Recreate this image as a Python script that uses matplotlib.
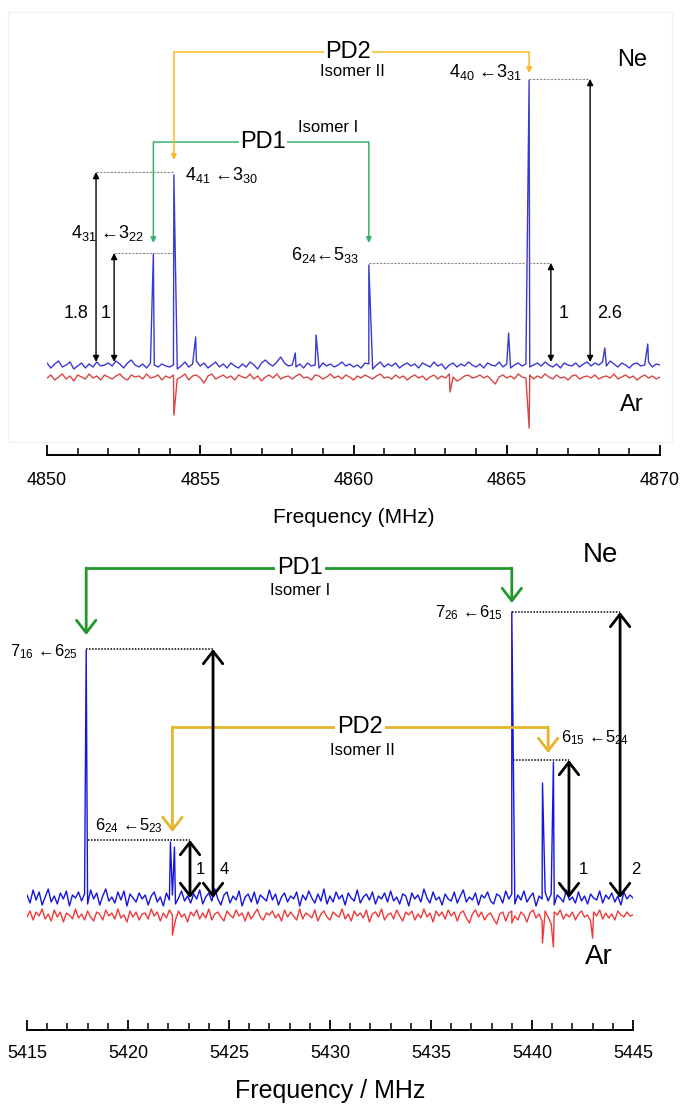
import numpy as np
import matplotlib
matplotlib.use("Agg")
import matplotlib.pyplot as plt
from matplotlib.ticker import MultipleLocator

plt.rcParams['font.family'] = ['Liberation Sans', 'DejaVu Sans']
plt.rcParams['mathtext.default'] = 'regular'

# ---------------- data: upper spectrum (4850-4870 MHz) ----------------
top_range = (4850.0, 4870.0)
# baseline wiggles of the Ne trace (arbitrary units x100)
top_ne_noise = [2, -3, 1, 4, -2, 0, 3, -4, -1, 2, -3, 1, -2, 3, -1, 0,
                2, -1, 4, 1, -3, 2, 5, 0, -2, 1, -3, 2, 0, -2, 1, -1,
                -2, 0, -4, -1, 3, -2, 1, 4, -1, 2, -3, 0, 3, -2, 1, -3,
                2, -1, -3, 1, -2, 3, 0, -4, 2, 5, 1, -1, 3, 8, 2, -1,
                0, -2, 1, -3, 2, -1, 0, -3, 2, -1, 1, -2, 0, 3, -1, 1,
                -2, 0, -3, 2, 1, -4, 0, 3, -2, 1, -1, 2, -3, 0, 2, -1,
                1, -3, 2, 0, -2, 3, -1, 1, -4, 0, 2, -2, 1, -1, 3, 0,
                -2, 1, -3, 2, 0, -1, 3, -2, 1, -3, 0, 2, -1, 1, -2, 0,
                2, -1, 3, 0, -2, 1, -3, 2, 0, -1, 2, -2, 1, 3, -1, 2,
                0, 3, -1, 4, 1, -2, 2, 0, -3, 1, 2, -1, 0, 3, -2, 1, 0]
top_ar_noise = [-1, 2, -3, 0, 3, -2, 1, -4, 2, 0, -2, 3, -1, 1, -3, 2,
                0, -2, 1, 3, -1, -3, 2, 0, 1, -2, 3, -1, 0, 2, -3, 1,
                -1, 2, -2, 0, 3, -3, 1, 2, -1, -6, 1, 3, -2, 0, 2, -1,
                1, -3, 2, 0, -1, 3, -2, 1, -4, 0, 2, -1, 3, -2, 0, 1,
                -2, 1, 3, -1, 0, -3, 2, 1, -2, 0, 3, -1, 1, -2, 2, 0,
                -3, 1, -1, 2, 0, -2, 1, 3, -1, 0, -2, 2, -1, 1, -3, 0,
                2, -1, 1, -3, 0, 2, -2, 1, -1, 3, 0, -4, -2, 1, 2, -1,
                0, 2, -1, 1, -3, -7, 0, 2, -1, 1, -2, 3, 0, -1, 2, -2,
                1, -1, 3, 0, -2, 2, -1, 0, -3, 1, 2, -2, 0, 1, -1, 2,
                -2, 0, 1, -1, 3, -2, 0, 2, -1, 1, -3, 0, 2, -1, 1, -2, 0]
top_ar_offset = -12
top_ne_peak_freq = [4853.47, 4854.14, 4854.85, 4858.10, 4858.78, 4860.50,
                    4865.06, 4865.73, 4868.20, 4869.60]
top_ne_peak_int = [111, 190, 28, 12, 30, 100, 32, 285, 17, 21]
top_ar_dip_freq = [4854.14, 4863.15, 4865.73]
top_ar_dip_int = [-50, -27, -63]

# ---------------- data: lower spectrum (5415-5445 MHz) ----------------
bot_range = (5415.0, 5445.0)
bot_ne_noise = [3, -5, 8, -2, 6, -7, 1, 9, -4, 2, -6, 5, -1, 7, -8, 3, 0, 6, -3, 4,
                -6, 8, -1, 5, -7, 2, 9, -3, 1, -5, 6, -2, 7, -8, 4, 0, -4, 5, -1, 3,
                -7, 2, 6, -4, 1, -8, 5, -2, 3, -6, 0, 7, -3, 2, -5, 4, -1, 8, -6, 1,
                5, -3, 9, -1, -7, 3, 6, -5, 2, -2, 7, -8, 1, 4, -4, 6, -6, 3, 0, -3,
                8, -2, 4, -7, 1, 5, -4, 2, -1, 6, -8, 3, -2, 7, 0, -5, 4, -3, 9, -6,
                2, -4, 6, -1, 3, -7, 5, 0, -3, 8, -5, 1, 4, -2, 6, -6, 2, -1, 5, -4,
                7, -3, 1, -6, 4, 2, -8, 5, -1, 3, -4, 9, 0, -5, 6, -2, 1, -7, 4, -1,
                -3, 6, -5, 2, 8, -4, 1, -2, 5, -7, 3, 0, 6, -3, -6, 4, 2, -5, 7, -1,
                4, -6, 3, -2, 7, -4, 1, 5, -8, 2, -1, 6, -3, 4, -7, 3, 0, -4, 8, -2,
                1, -5, 6, -3, 2, -6, 4, 0, -2, 7, -5, 3, -1, 5, -4, 2, -7, 6, -1, 3, 0]
bot_ar_noise = [-2, 4, -5, 3, -1, 6, -4, 1, -6, 5, -2, 3, -7, 2, 0, -4, 6, -3, 1, -5,
                4, -2, -6, 3, 1, -5, 5, -1, 2, -4, 6, -3, 0, -7, 4, -2, 3, -5, 1, 2,
                -4, 6, -1, 3, -6, 2, -3, 5, 0, -5, 4, -2, 1, -7, 3, -1, 5, -4, 2, -3,
                6, -5, 1, 3, -2, -6, 4, 0, -3, 5, -1, 2, -6, 3, -4, 1, 6, -2, -5, 2,
                0, 4, -3, 1, -6, 5, -2, 3, -1, -5, 6, -4, 2, 0, -3, 5, -6, 1, 4, -2,
                -5, 3, 0, -2, 6, -4, 1, -6, 4, -1, 2, -3, 5, -7, 1, 3, -2, 6, -5, 0,
                2, -4, 5, -1, -6, 3, 0, 4, -5, 1, -3, 6, -2, 2, -7, 4, -1, 3, -4, 5,
                -1, 3, -6, 2, 4, -3, -8, 1, 5, -2, 3, -5, 0, 2, -4, -9, 1, 3, -6, 2,
                4, -1, -5, 3, 0, -7, 2, 5, -3, 1, -6, 4, -2, -9, 3, 0, 5, -4, 1, -2,
                3, -5, 1, 4, -2, 0, -6, 3, -1, 5, -4, 2, -3, 1, -5, 4, 0, -2, 3, -1, 0]
bot_ar_offset = -17
bot_ne_peak_freq = [5417.93, 5422.10, 5422.30, 5439.00, 5440.52, 5441.06]
bot_ne_peak_int = [248, 56, 51, 286, 115, 136]
bot_ar_dip_freq = [5422.20, 5439.00, 5440.52, 5441.06, 5443.00]
bot_ar_dip_int = [-37, -25, -45, -49, -40]


def trace(rng, noise, offset, pk_f, pk_i):
    f = np.linspace(rng[0], rng[1], len(noise))
    y = np.array(noise, float) + offset
    f = np.concatenate([f, pk_f])
    y = np.concatenate([y, pk_i])
    order = np.argsort(f)
    return f[order], y[order] / 100.0


fig = plt.figure(figsize=(6.81, 11.05), dpi=100)

# faint frame around the upper panel
fig.patches.append(plt.Rectangle((8 / 681, 1 - 442 / 1105), 664 / 681, 430 / 1105,
                                 transform=fig.transFigure, fill=False,
                                 edgecolor='#f2f2f2', lw=1.0))


def style_axis(ax, rng, ylim, fs, pad):
    ax.set_xlim(*rng)
    ax.set_ylim(*ylim)
    for s in ['left', 'right', 'top']:
        ax.spines[s].set_visible(False)
    ax.spines['bottom'].set_linewidth(1.4)
    ax.set_yticks([])
    ax.xaxis.set_major_locator(MultipleLocator(5))
    ax.xaxis.set_minor_locator(MultipleLocator(1))
    ax.tick_params(axis='x', which='major', direction='in', length=7, width=1.3,
                   labelsize=fs, pad=pad)
    ax.tick_params(axis='x', which='minor', direction='in', length=5, width=1.1)
    ax.patch.set_alpha(0)


# ================= upper panel =================
ax1 = fig.add_axes([47 / 681, 1 - 455 / 1105, 613 / 681, 435 / 1105])
style_axis(ax1, top_range, (-0.90, 3.45), 13, 12)
ax1.set_xlabel('Frequency (MHz)', fontsize=15, labelpad=14)

f, y = trace(top_range, top_ne_noise, 0, top_ne_peak_freq, top_ne_peak_int)
ax1.plot(f, y, color='#3a3ad2', lw=1.0)
f, y = trace(top_range, top_ar_noise, top_ar_offset, top_ar_dip_freq, top_ar_dip_int)
ax1.plot(f, y, color='#d94545', lw=1.0)

yel1, grn1 = '#f7b924', '#35b36b'


def connector(ax, x1, x2, ybar, t1, t2, color, lw, style, ms):
    ax.plot([x1, x2], [ybar, ybar], color=color, lw=lw, solid_capstyle='butt')
    for x, t in ((x1, t1), (x2, t2)):
        ax.annotate('', xy=(x, t), xytext=(x, ybar),
                    arrowprops=dict(arrowstyle=style, color=color, lw=lw,
                                    shrinkA=0, shrinkB=0, mutation_scale=ms))


connector(ax1, 4854.14, 4865.73, 3.13, 2.05, 2.92, yel1, 1.1, '-|>', 8)
connector(ax1, 4853.47, 4860.50, 2.23, 1.22, 1.22, grn1, 1.1, '-|>', 8)
ax1.text(4859.82, 3.13, 'PD2', fontsize=17, ha='center', va='center',
         bbox=dict(facecolor='white', edgecolor='none', pad=0.5))
ax1.text(4859.95, 2.93, 'Isomer II', fontsize=12, ha='center', va='center')
ax1.text(4857.05, 2.23, 'PD1', fontsize=17, ha='center', va='center',
         bbox=dict(facecolor='white', edgecolor='none', pad=0.5))
ax1.text(4859.17, 2.38, 'Isomer I', fontsize=12, ha='center', va='center')

ax1.text(4854.50, 1.90, '4$_{41}$ ←3$_{30}$', fontsize=13, ha='left', va='center')
ax1.text(4850.78, 1.32, '4$_{31}$ ←3$_{22}$', fontsize=13, ha='left', va='center')
ax1.text(4857.96, 1.10, '6$_{24}$←5$_{33}$', fontsize=13, ha='left', va='center')
ax1.text(4863.10, 2.93, '4$_{40}$ ←3$_{31}$', fontsize=13, ha='left', va='center')

for xa, xb, yy in [(4851.60, 4854.14, 1.93), (4852.19, 4854.14, 1.12),
                   (4860.50, 4866.44, 1.02), (4865.73, 4867.72, 2.86)]:
    ax1.plot([xa, xb], [yy, yy], color='#8a8a8a', lw=0.8, ls=(0, (2, 1.2)))
for xx, yy in [(4851.60, 1.93), (4852.19, 1.12), (4866.44, 1.02), (4867.72, 2.86)]:
    ax1.annotate('', xy=(xx, yy), xytext=(xx, 0.03),
                 arrowprops=dict(arrowstyle='<|-|>', color='black', lw=1.0,
                                 shrinkA=0, shrinkB=0, mutation_scale=9))
for xx, lab in [(4850.95, '1.8'), (4851.92, '1'), (4866.84, '1'), (4868.37, '2.6')]:
    ax1.text(xx, 0.52, lab, fontsize=13, ha='center', va='center')
ax1.text(4869.09, 3.05, 'Ne', fontsize=17, ha='center', va='center')
ax1.text(4869.09, -0.40, 'Ar', fontsize=17, ha='center', va='center')

# ================= lower panel =================
ax2 = fig.add_axes([27 / 681, 1 - 1030 / 1105, 606 / 681, 490 / 1105])
style_axis(ax2, bot_range, (-1.32, 3.58), 13, 11)
ax2.set_xlabel('Frequency / MHz', fontsize=18, labelpad=12)

f, y = trace(bot_range, bot_ne_noise, 0, bot_ne_peak_freq, bot_ne_peak_int)
ax2.plot(f, y, color='#1515e0', lw=1.0)
f, y = trace(bot_range, bot_ar_noise, bot_ar_offset, bot_ar_dip_freq, bot_ar_dip_int)
ax2.plot(f, y, color='#f03a3a', lw=1.0)

yel2, grn2 = '#e5b52c', '#23982a'
chev = '->,head_length=0.45,head_width=0.35'
connector(ax2, 5417.93, 5439.00, 3.30, 2.63, 2.95, grn2, 2.0, chev, 20)
connector(ax2, 5422.20, 5440.80, 1.71, 0.66, 1.45, yel2, 2.0, chev, 20)
ax2.text(5428.5, 3.30, 'PD1', fontsize=17, ha='center', va='center',
         bbox=dict(facecolor='white', edgecolor='none', pad=1.5))
ax2.text(5428.5, 3.08, 'Isomer I', fontsize=12, ha='center', va='center')
ax2.text(5431.5, 1.71, 'PD2', fontsize=17, ha='center', va='center',
         bbox=dict(facecolor='white', edgecolor='none', pad=1.5))
ax2.text(5431.6, 1.48, 'Isomer II', fontsize=12, ha='center', va='center')

ax2.text(5417.50, 2.46, '7$_{16}$ ←6$_{25}$', fontsize=12, ha='right', va='center')
ax2.text(5438.56, 2.85, '7$_{26}$ ←6$_{15}$', fontsize=12, ha='right', va='center')
ax2.text(5441.44, 1.60, '6$_{15}$ ←5$_{24}$', fontsize=12, ha='left', va='center')
ax2.text(5418.37, 0.72, '6$_{24}$ ←5$_{23}$', fontsize=12, ha='left', va='center')

for xa, xb, yy in [(5417.93, 5424.21, 2.49), (5439.00, 5444.36, 2.86),
                   (5439.05, 5441.83, 1.38), (5418.00, 5423.07, 0.58)]:
    ax2.plot([xa, xb], [yy, yy], color='black', lw=1.1, ls=(0, (1, 1)))
for xx, yy in [(5423.07, 0.58), (5424.21, 2.49), (5441.83, 1.38), (5444.36, 2.86)]:
    ax2.annotate('', xy=(xx, yy), xytext=(xx, 0.0),
                 arrowprops=dict(arrowstyle='<->,head_length=0.45,head_width=0.35',
                                 color='black', lw=2.0, shrinkA=0, shrinkB=0,
                                 mutation_scale=20))
for xx, lab in [(5423.56, '1'), (5424.75, '4'), (5442.52, '1'), (5445.15, '2')]:
    ax2.text(xx, 0.29, lab, fontsize=12, ha='center', va='center')
ax2.text(5443.4, 3.43, 'Ne', fontsize=20, ha='center', va='center')
ax2.text(5443.3, -0.59, 'Ar', fontsize=20, ha='center', va='center')

fig.savefig('out.png', dpi=100)
